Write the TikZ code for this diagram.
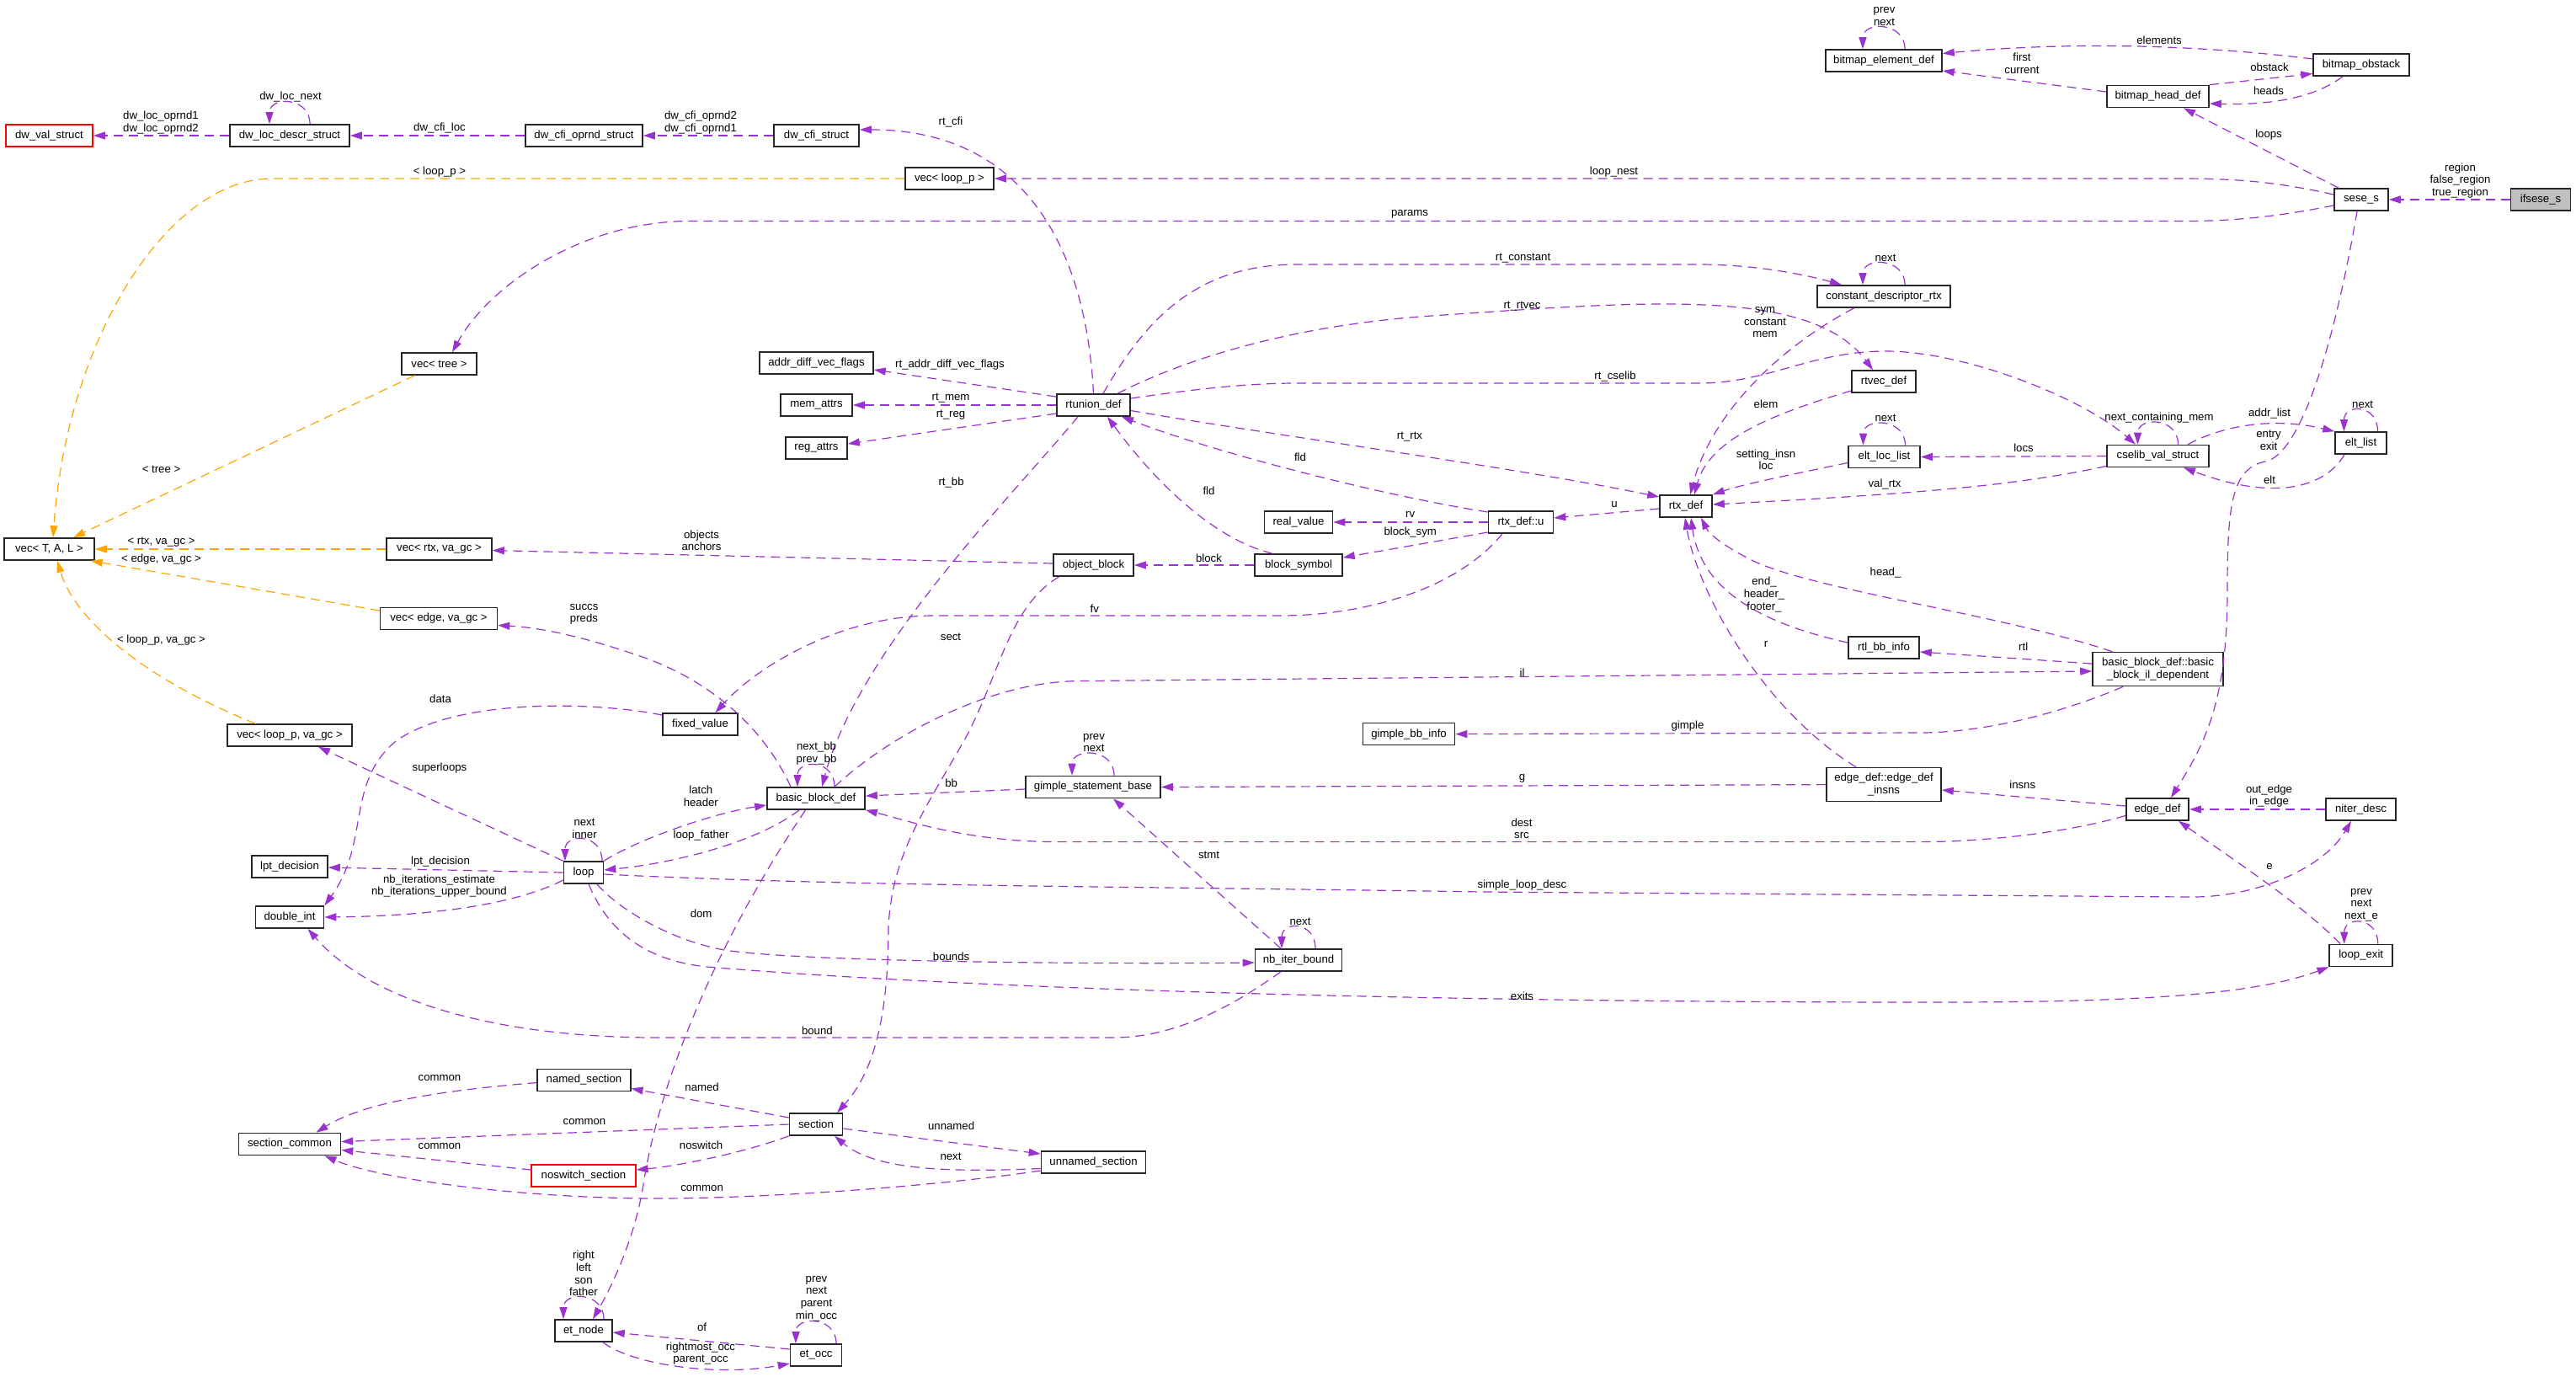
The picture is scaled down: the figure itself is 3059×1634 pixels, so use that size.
\documentclass[tikz,border=0pt]{standalone}
\usepackage{fontspec}
\newfontfamily\dfont{Liberation Sans}
\usetikzlibrary{arrows.meta}
\definecolor{purp}{HTML}{9A32CD}
\definecolor{orng}{HTML}{FFA500}
\definecolor{grayfill}{HTML}{BFBFBF}
\newcommand\selfloop[2][24]{\draw[uedge] ([xshift=#1pt]#2.north) .. controls +(0,-33) and +(0,-33) .. ([xshift=-#1pt]#2.north);}
\tikzset{
 cls/.style={draw=black!85, line width=1.6pt, fill=white, minimum height=26pt, inner sep=0pt, align=center, font=\dfont\fontsize{13.2}{14.6}\selectfont},
 redcls/.style={cls, draw=red},
 uedge/.style={draw=purp, line width=1.2pt, dash pattern=on 11pt off 7pt, -{Triangle[length=14pt,width=9pt]}},
 tedge/.style={uedge, draw=orng},
 lbl/.style={inner sep=0pt, align=center, font=\dfont\fontsize{13.2}{14.6}\selectfont},
}
\begin{document}
\begin{tikzpicture}[x=1pt,y=-1pt]
\useasboundingbox (0,0) rectangle (3059,1634);
% nodes
\node[redcls, minimum width=103pt] (dwval) at (58.5,161) {dw\_val\_struct};
\node[cls, minimum width=142pt] (dwloc) at (344,161) {dw\_loc\_descr\_struct};
\node[cls, minimum width=139pt] (dwcfio) at (693.5,161) {dw\_cfi\_oprnd\_struct};
\node[cls, minimum width=101pt] (dwcfi) at (969.5,161) {dw\_cfi\_struct};
\node[cls, minimum width=105pt] (vecloopp) at (1127.5,212) {vec< loop\_p >};
\node[cls, minimum width=89pt] (vectree) at (521.5,432) {vec< tree >};
\node[cls, minimum width=107pt] (vecTAL) at (58.5,652) {vec< T, A, L >};
\node[cls, minimum width=125pt] (vecrtx) at (521.5,652) {vec< rtx, va\_gc >};
\node[cls, minimum width=139pt] (vecedge) at (521,734.5) {vec< edge, va\_gc >};
\node[cls, minimum width=148pt] (veclooppgc) at (344,873) {vec< loop\_p, va\_gc >};
\node[cls, minimum width=90pt] (lpt) at (344,1029) {lpt\_decision};
\node[cls, minimum width=81pt] (dint) at (344,1089) {double\_int};
\node[cls, minimum width=47pt] (loop) at (693,1036) {loop};
\node[cls, minimum width=89pt] (fixed) at (831.5,860) {fixed\_value};
\node[cls, minimum width=116pt] (bbd) at (969,948) {basic\_block\_def};
\node[cls, minimum width=160pt] (gsb) at (1298,934.5) {gimple\_statement\_base};
\node[cls, minimum width=95pt] (objblk) at (1298.5,671) {object\_block};
\node[cls, minimum width=104pt] (blksym) at (1542,671) {block\_symbol};
\node[cls, minimum width=81pt] (realv) at (1542,620) {real\_value};
\node[cls, minimum width=135pt] (adv) at (969.5,431) {addr\_diff\_vec\_flags};
\node[cls, minimum width=85pt] (mem) at (969.5,481) {mem\_attrs};
\node[cls, minimum width=73pt] (reg) at (969.5,532) {reg\_attrs};
\node[cls, minimum width=87pt] (rtu) at (1298.5,481) {rtunion\_def};
\node[cls, minimum width=62pt] (rtx) at (2002,601) {rtx\_def};
\node[cls, minimum width=77pt] (rtxu) at (1806,620) {rtx\_def::u};
\node[cls, minimum width=84pt] (rtlbb) at (2237,769) {rtl\_bb\_info};
\node[cls, minimum width=109pt] (gbb) at (1673,871.6) {gimple\_bb\_info};
\node[cls, minimum width=136pt, minimum height=40pt] (eed) at (2237,931.6) {edge\_def::edge\_def\\\_insns};
\node[cls, minimum width=155pt, minimum height=40pt] (bbil) at (2562.5,794.6) {basic\_block\_def::basic\\\_block\_il\_dependent};
\node[cls, minimum width=74.5pt] (edge) at (2562,961) {edge\_def};
\node[cls, minimum width=83pt] (niter) at (2803.5,961) {niter\_desc};
\node[cls, minimum width=75pt] (loopexit) at (2803.7,1134.4) {loop\_exit};
\node[cls, minimum width=138pt] (bed) at (2237,72) {bitmap\_element\_def};
\node[cls, minimum width=114pt] (bobs) at (2804,77) {bitmap\_obstack};
\node[cls, minimum width=121pt] (bhd) at (2562.5,114.5) {bitmap\_head\_def};
\node[cls, minimum width=64pt] (sese) at (2804,237) {sese\_s};
\node[cls, minimum width=71pt, fill=grayfill] (ifsese) at (3017,237) {ifsese\_s};
\node[cls, minimum width=158pt] (cdr) at (2237,352) {constant\_descriptor\_rtx};
\node[cls, minimum width=76pt] (rtvec) at (2237,453) {rtvec\_def};
\node[cls, minimum width=85pt] (eltloc) at (2237.5,542.5) {elt\_loc\_list};
\node[cls, minimum width=121pt] (cselib) at (2562.5,541.5) {cselib\_val\_struct};
\node[cls, minimum width=61pt] (eltlist) at (2803.5,526) {elt\_list};
\node[cls, minimum width=110.5pt] (named) at (693.5,1282.5) {named\_section};
\node[cls, minimum width=121pt] (seccom) at (344,1358.5) {section\_common};
\node[redcls, minimum width=123.5pt] (noswitch) at (693,1396) {noswitch\_section};
\node[cls, minimum width=68pt] (etnode) at (693,1580) {et\_node};
\node[cls, minimum width=63pt] (section) at (969,1335) {section};
\node[cls, minimum width=124pt] (unnamed) at (1298.5,1380) {unnamed\_section};
\node[cls, minimum width=61pt] (etocc) at (969,1609) {et\_occ};
\node[cls, minimum width=103pt] (nbiter) at (1542,1140) {nb\_iter\_bound};
% edges
\draw[uedge] (dwloc.west) -- (dwval.east);
\selfloop{dwloc}
\draw[uedge] (dwcfio.west) -- (dwloc.east);
\draw[uedge] (dwcfi.west) -- (dwcfio.east);
\draw[uedge] (rtu.north) .. controls (1290,300) and (1220,154) .. ([yshift=7pt]dwcfi.east);
\draw[tedge] (vecloopp.west) -- (323,212) .. controls (200,212) and (80,400) .. ([xshift=4.5pt]vecTAL.north);
\draw[uedge] ([yshift=6pt]sese.west) .. controls (2700,215) and (2650,212) .. (2588,212) -- (vecloopp.east);
\draw[uedge] ([yshift=-7pt]sese.west) .. controls (2700,258) and (2650,262.5) .. (2593,262.5) -- (820,262.5) .. controls (690,262.5) and (580,340) .. ([xshift=15.5pt]vectree.north);
\draw[tedge] ([xshift=-29pt]vectree.south) -- ([xshift=28.5pt]vecTAL.north);
\draw[tedge] (vecrtx.west) -- (vecTAL.east);
\draw[tedge] ([yshift=9.5pt]vecedge.west) -- ([xshift=-5pt]vecTAL.south east);
\draw[tedge] ([xshift=-40.5pt]veclooppgc.north) .. controls (180,810) and (90,740) .. ([xshift=9.5pt]vecTAL.south);
\draw[uedge] ([yshift=2pt]objblk.west) -- ([yshift=-1.5pt]vecrtx.east);
\draw[uedge] ([xshift=-30pt]bbd.north) .. controls (910,870) and (850,810) .. (760,779) .. controls (690,755) and (640,745) .. ([yshift=-8pt]vecedge.east);
\draw[uedge] (loop.north west) -- ([xshift=34pt]veclooppgc.south);
\selfloop[22]{loop}
\draw[uedge] (loop.west) -- ([yshift=-1pt]lpt.east);
\draw[uedge] ([yshift=-9pt]loop.west) .. controls (600,1080) and (480,1088) .. (dint.east);
\draw[uedge] ([yshift=11pt]fixed.west) .. controls (700,832) and (540,830) .. (470,880) .. controls (410,930) and (440,1000) .. (dint.north east);
\draw[uedge] ([xshift=-22pt]rtxu.south) .. controls (1730,700) and (1620,731) .. (1520,731) -- (1108,731) .. controls (1000,731) and (900,790) .. ([xshift=18pt]fixed.north);
\selfloop[22]{bbd}
\draw[uedge] (loop.north east) .. controls (760,995) and (850,965) .. ([yshift=-8pt]bbd.west);
\draw[uedge] ([xshift=-20pt]bbd.south) .. controls (900,1000) and (800,1025) .. ([yshift=3pt]loop.east);
\draw[uedge] ([yshift=-2.5pt]gsb.west) -- ([yshift=3pt]bbd.east);
\selfloop[25]{gsb}
\draw[uedge] ([yshift=-7.5pt]edge.west) .. controls (2450,990) and (2350,999.6) .. (2280,999.6) -- (1257.5,999.6) .. controls (1150,999.6) and (1080,975) .. (bbd.south east);
\draw[uedge] ([xshift=22pt]bbd.north) .. controls (1060,870) and (1180,808.6) .. (1282,808.6) -- ([yshift=-2.4pt]bbil.west);
\draw[uedge] ([yshift=6.6pt]bbil.west) -- ([yshift=-5pt]rtlbb.east);
\draw[uedge] ([xshift=-41.5pt]bbil.south) .. controls (2440,850) and (2350,870) .. (2280,870) -- (gbb.east);
\draw[uedge] ([yshift=6pt]rtlbb.west) .. controls (2090,740) and (2020,700) .. ([xshift=6pt]rtx.south);
\draw[uedge] ([xshift=-33pt]eed.north) .. controls (2090,840) and (2015,700) .. ([xshift=-1pt]rtx.south);
\draw[uedge] (eed.west) -- (gsb.east);
\draw[uedge] ([xshift=-54pt]bbil.north) .. controls (2380,730) and (2150,700) .. (2080,665) .. controls (2050,650) and (2030,635) .. ([xshift=18pt]rtx.south);
\draw[uedge] ([yshift=-12pt]cselib.west) .. controls (2400,575) and (2300,585) .. ([yshift=2pt]rtx.east);
\draw[uedge] (cselib.west) -- (eltloc.east);
\selfloop{cselib}
\draw[uedge] ([xshift=35.5pt]cselib.north) .. controls (2640,505) and (2700,495) .. (eltlist.north west);
\draw[uedge] ([xshift=-19.5pt]eltlist.south) .. controls (2760,580) and (2700,595) .. ([xshift=30.5pt]cselib.south);
\selfloop[20]{eltlist}
\selfloop[25]{eltloc}
\draw[uedge] ([yshift=-7pt]eltloc.west) .. controls (2120,565) and (2070,575) .. (rtx.north east);
\draw[uedge] ([yshift=-11pt]rtvec.west) .. controls (2110,490) and (2030,520) .. ([xshift=10pt]rtx.north);
\draw[uedge] ([xshift=-35.5pt]cdr.south) .. controls (2100,420) and (2030,500) .. ([xshift=5pt]rtx.north);
\selfloop[25]{cdr}
\draw[uedge] ([xshift=11.5pt]rtu.north) .. controls (1360,380) and (1420,314) .. (1540,314) -- (2017.5,314) .. controls (2080,314) and (2140,325) .. ([xshift=-50pt]cdr.north);
\draw[uedge] ([xshift=28.5pt]rtu.north) .. controls (1420,420) and (1550,385) .. (1700,375) .. controls (1950,358) and (2150,340) .. ([xshift=-13pt]rtvec.north);
\draw[uedge] ([yshift=8pt]rtu.east) .. controls (1420,462) and (1480,455) .. (1540,455) -- (2017.5,455) .. controls (2100,455) and (2150,417) .. (2240,417) .. controls (2330,417) and (2470,470) .. ([xshift=-26.5pt]cselib.north);
\draw[uedge] ([yshift=-6.5pt]rtu.east) .. controls (1500,515) and (1800,555) .. ([yshift=11pt]rtx.west);
\draw[uedge] ([yshift=12pt]rtxu.west) .. controls (1650,590) and (1450,540) .. ([xshift=33.5pt]rtu.south);
\draw[uedge] ([xshift=-31pt]blksym.north) .. controls (1440,640) and (1370,570) .. ([xshift=16.5pt]rtu.south);
\draw[uedge] ([yshift=-3pt]rtx.west) -- ([yshift=5pt]rtxu.east);
\draw[uedge] (rtxu.west) -- (realv.east);
\draw[uedge] ([yshift=-12pt]rtxu.west) -- ([yshift=9pt]blksym.east);
\draw[uedge] (blksym.west) -- (objblk.east);
\draw[uedge] ([xshift=-41pt]objblk.south) .. controls (1200,720) and (1190,790) .. (1150,870) .. controls (1100,960) and (1060,1010) .. (1055,1100) .. controls (1055,1200) and (1040,1270) .. ([xshift=25pt]section.north);
\draw[uedge] ([xshift=-18.5pt]rtu.south) .. controls (1210,580) and (1020,770) .. ([xshift=7pt]bbd.north);
\draw[uedge] ([xshift=-12.5pt]bbd.south) .. controls (850,1120) and (785,1280) .. (765,1400) .. controls (755,1470) and (725,1530) .. ([xshift=11pt]etnode.north);
\selfloop{etnode}
\draw[uedge] ([yshift=7pt]etocc.west) -- ([yshift=-2pt]etnode.east);
\draw[uedge] ([xshift=23pt]etnode.south) .. controls (750,1620) and (850,1635) .. ([yshift=-10pt]etocc.west);
\selfloop{etocc}
\draw[uedge] ([yshift=8pt]section.west) -- ([yshift=-10pt]named.east);
\draw[uedge] ([yshift=-3pt]named.west) .. controls (520,1295) and (430,1310) .. ([xshift=31.5pt]seccom.north);
\draw[uedge] (section.west) -- ([yshift=3pt]seccom.east);
\draw[uedge] ([yshift=7pt]noswitch.west) -- ([yshift=-7pt]seccom.east);
\draw[uedge] (section.south west) .. controls (880,1370) and (800,1385) .. ([yshift=7pt]noswitch.east);
\draw[uedge] ([yshift=-10pt]unnamed.west) .. controls (1100,1410) and (900,1423) .. (780,1423) .. controls (620,1423) and (450,1400) .. ([xshift=41.5pt]seccom.south);
\draw[uedge] ([yshift=-5pt]section.east) -- ([yshift=10pt]unnamed.west);
\draw[uedge] ([yshift=-7.5pt]unnamed.west) .. controls (1130,1392) and (1040,1390) .. ([xshift=22pt]section.south);
\draw[uedge] ([xshift=16pt]loop.south) .. controls (730,1075) and (790,1115) .. (860,1128) .. controls (950,1142) and (1300,1145) .. ([yshift=-3pt]nbiter.west);
\draw[uedge] ([xshift=6pt]loop.south) .. controls (720,1100) and (760,1140) .. (840,1148) .. controls (1100,1170) and (1600,1190) .. (2300,1190) .. controls (2550,1190) and (2680,1180) .. (loopexit.south west);
\draw[uedge] ([yshift=-2pt]loop.east) .. controls (1000,1052) and (1300,1052) .. (1760,1059) -- (2600,1065) .. controls (2680,1066) and (2760,1030) .. ([xshift=-11.5pt]niter.south);
\draw[uedge] ([xshift=-21pt]nbiter.north) -- ([xshift=24pt]gsb.south);
\selfloop[20]{nbiter}
\draw[uedge] ([xshift=-21pt]nbiter.south) .. controls (1470,1190) and (1400,1232) .. (1322,1232) -- (780,1232) .. controls (620,1232) and (450,1200) .. ([xshift=21.5pt]dint.south);
\draw[uedge] ([yshift=4pt]edge.west) -- ([yshift=-6.4pt]eed.east);
\draw[uedge] (niter.west) -- (edge.east);
\draw[uedge] ([xshift=-24.7pt]loopexit.north) .. controls (2740,1080) and (2680,1040) .. ([xshift=25pt]edge.south);
\selfloop[20]{loopexit}
\draw[uedge] ([xshift=-5pt]sese.south) .. controls (2770,420) and (2730,540) .. (2690,548) .. controls (2650,556) and (2645,600) .. (2645,700) .. controls (2645,830) and (2620,880) .. ([xshift=16pt]edge.north);
\draw[uedge] ([xshift=-27pt]sese.north) -- ([xshift=30.5pt]bhd.south);
\draw[uedge] (ifsese.west) -- (sese.east);
\draw[uedge] (bhd.north east) -- ([yshift=-10.5pt]bobs.west);
\draw[uedge] ([xshift=-22pt]bobs.south) .. controls (2750,115) and (2700,125) .. ([yshift=-8.5pt]bhd.east);
\draw[uedge] ([yshift=7pt]bobs.west) .. controls (2600,52) and (2450,50) .. ([yshift=8.5pt]bed.east);
\draw[uedge] ([yshift=5.5pt]bhd.west) -- ([yshift=-12pt]bed.east);
\selfloop[25]{bed}
\draw[uedge] ([yshift=10pt]rtu.west) -- ([yshift=-8pt]adv.east);
\draw[uedge] (rtu.west) -- (mem.east);
\draw[uedge] ([yshift=-10pt]rtu.west) -- ([yshift=5pt]reg.east);
% labels
\node[lbl] (l1) at (191,145.5) {dw\_loc\_oprnd1\\dw\_loc\_oprnd2};
\node[lbl] (l2) at (345,115) {dw\_loc\_next};
\node[lbl] (l3) at (522,152.5) {dw\_cfi\_loc};
\node[lbl] (l4) at (832,145.5) {dw\_cfi\_oprnd2\\dw\_cfi\_oprnd1};
\node[lbl] (l5) at (1129,144.6) {rt\_cfi};
\node[lbl] (l6) at (522,204) {< loop\_p >};
\node[lbl] (l7) at (1916.5,203.6) {loop\_nest};
\node[lbl] (l8) at (1674,254.6) {params};
\node[lbl] (l9) at (191.5,557) {< tree >};
\node[lbl] (l10) at (191.5,644) {< rtx, va\_gc >};
\node[lbl] (l11) at (191.5,664) {< edge, va\_gc >};
\node[lbl] (l12) at (191.5,760) {< loop\_p, va\_gc >};
\node[lbl] (l13) at (833,641.6) {objects\\anchors};
\node[lbl] (l14) at (693.5,729.5) {succs\\preds};
\node[lbl] (l15) at (522,912.5) {superloops};
\node[lbl] (l16) at (694,983.5) {next\\inner};
\node[lbl] (l17) at (523,1023) {lpt\_decision};
\node[lbl] (l18) at (521.5,1052) {nb\_iterations\_estimate\\nb\_iterations\_upper\_bound};
\node[lbl] (l19) at (523,830) {data};
\node[lbl] (l20) at (1299.7,723) {fv};
\node[lbl] (l21) at (969.5,894.7) {next\_bb\\prev\_bb};
\node[lbl] (l22) at (832.3,945) {latch\\header};
\node[lbl] (l23) at (832.6,991.8) {loop\_father};
\node[lbl] (l24) at (1129.6,930) {bb};
\node[lbl] (l25) at (1299,882) {prev\\next};
\node[lbl] (l26) at (1807,983.7) {dest\\src};
\node[lbl] (l27) at (1807.5,799) {il};
\node[lbl] (l28) at (2402.7,768) {rtl};
\node[lbl] (l29) at (2004,862.5) {gimple};
\node[lbl] (l30) at (2095,706) {end\_\\header\_\\footer\_};
\node[lbl] (l31) at (2097,765) {r};
\node[lbl] (l32) at (1807.5,924.6) {g};
\node[lbl] (l33) at (2239,680) {head\_};
\node[lbl] (l34) at (2238,574.6) {val\_rtx};
\node[lbl] (l35) at (2403,532) {locs};
\node[lbl] (l36) at (2564,495.7) {next\_containing\_mem};
\node[lbl] (l37) at (2695,491.4) {addr\_list};
\node[lbl] (l38) at (2695,570) {elt};
\node[lbl] (l39) at (2805.6,480) {next};
\node[lbl] (l40) at (2239,496) {next};
\node[lbl] (l41) at (2097,545.8) {setting\_insn\\loc};
\node[lbl] (l42) at (2097,480) {elem};
\node[lbl] (l43) at (2096,382.7) {sym\\constant\\mem};
\node[lbl] (l44) at (2239,306) {next};
\node[lbl] (l45) at (1808.5,306.4) {rt\_constant};
\node[lbl] (l46) at (1807.5,364) {rt\_rtvec};
\node[lbl] (l47) at (1918,447.5) {rt\_cselib};
\node[lbl] (l48) at (1674,518.6) {rt\_rtx};
\node[lbl] (l49) at (1544,543) {fld};
\node[lbl] (l50) at (1435.5,583) {fld};
\node[lbl] (l51) at (1917,599) {u};
\node[lbl] (l52) at (1674.7,611.4) {rv};
\node[lbl] (l53) at (1674.7,631.8) {block\_sym};
\node[lbl] (l54) at (1435.5,662.5) {block};
\node[lbl] (l55) at (1129,756.4) {sect};
\node[lbl] (l56) at (1129.6,573) {rt\_bb};
\node[lbl] (l57) at (832.6,1084.6) {dom};
\node[lbl] (l58) at (693,1512) {right\\left\\son\\father};
\node[lbl] (l59) at (833.6,1575.8) {of};
\node[lbl] (l60) at (832,1607) {rightmost\_occ\\parent\_occ};
\node[lbl] (l61) at (969.5,1542) {prev\\next\\parent\\min\_occ};
\node[lbl] (l62) at (833.6,1291) {named};
\node[lbl] (l63) at (522,1279.6) {common};
\node[lbl] (l64) at (694,1332) {common};
\node[lbl] (l65) at (522,1361) {common};
\node[lbl] (l66) at (832.6,1360) {noswitch};
\node[lbl] (l67) at (833.6,1411) {common};
\node[lbl] (l68) at (1129.6,1337) {unnamed};
\node[lbl] (l69) at (1129,1373) {next};
\node[lbl] (l70) at (1129.6,1135.5) {bounds};
\node[lbl] (l71) at (1807.5,1182.5) {exits};
\node[lbl] (l72) at (1807.5,1050.7) {simple\_loop\_desc};
\node[lbl] (l73) at (1435.5,1015) {stmt};
\node[lbl] (l74) at (970.4,1224) {bound};
\node[lbl] (l75) at (2401.7,932) {insns};
\node[lbl] (l76) at (2694.5,945) {out\_edge\\in\_edge};
\node[lbl] (l77) at (2695,1028.6) {e};
\node[lbl] (l78) at (2804,1074.5) {prev\\next\\next\_e};
\node[lbl] (l79) at (2694,523) {entry\\exit};
\node[lbl] (l80) at (2694,160) {loops};
\node[lbl] (l81) at (2921.5,214.4) {region\\false\_region\\true\_region};
\node[lbl] (l82) at (2695,80) {obstack};
\node[lbl] (l83) at (2694,108) {heads};
\node[lbl] (l84) at (2564,47.5) {elements};
\node[lbl] (l85) at (2401,75) {first\\current};
\node[lbl] (l86) at (2237.5,19.5) {prev\\next};
\node[lbl] (l87) at (1128,433) {rt\_addr\_diff\_vec\_flags};
\node[lbl] (l88) at (1129,473) {rt\_mem};
\node[lbl] (l89) at (1129,493) {rt\_reg};
\node[lbl] (l90) at (1544,1094.5) {next};
\end{tikzpicture}
\end{document}
